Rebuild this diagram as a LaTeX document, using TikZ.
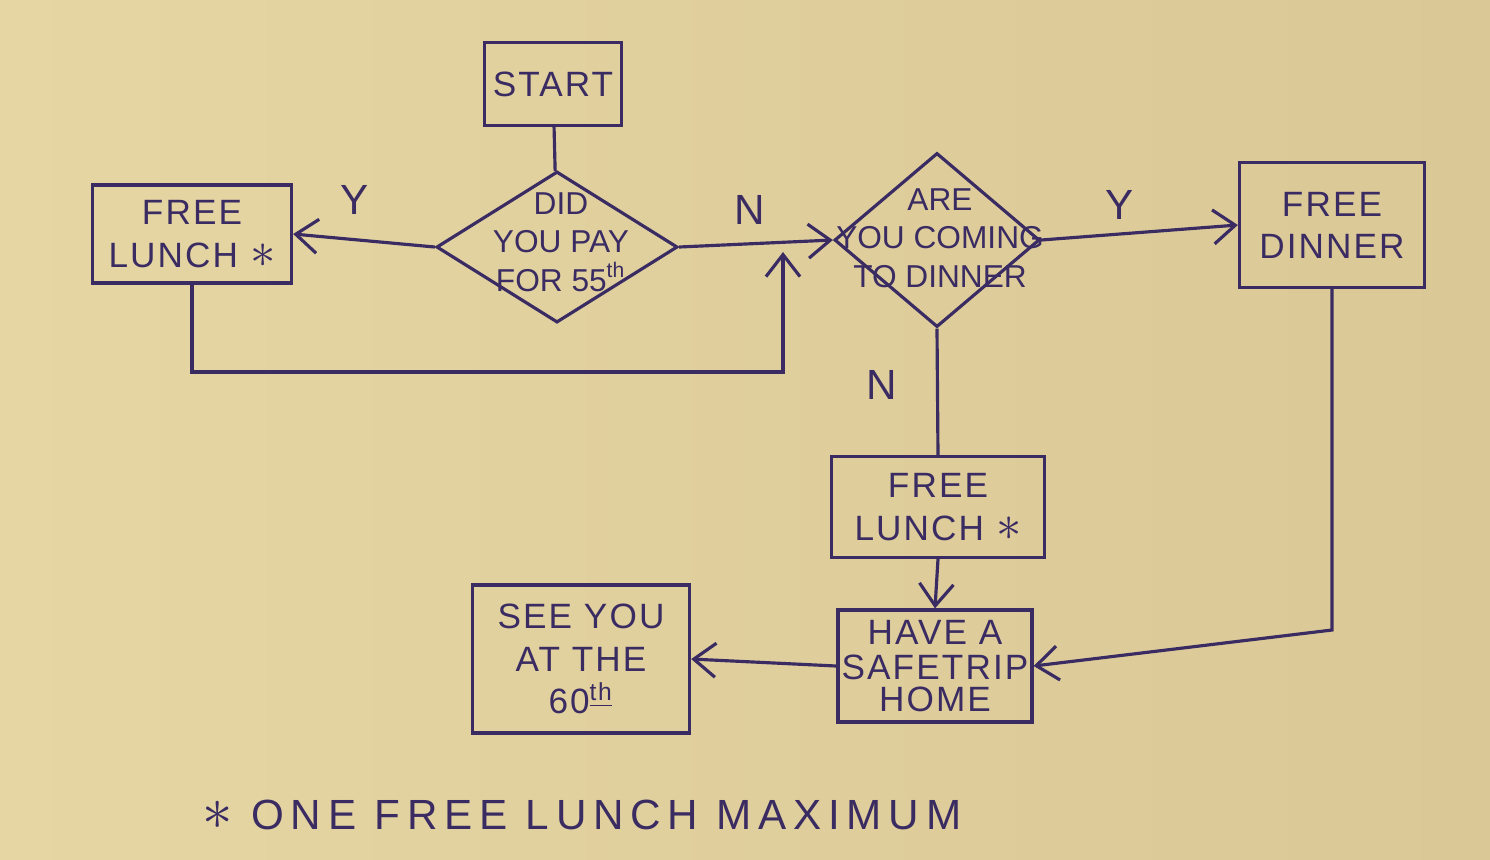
\documentclass[tikz,border=0pt]{standalone}
\usepackage{fontspec}
\setmainfont{Liberation Sans}
\newfontfamily\handfont[LetterSpace=6]{Liberation Sans}
\newfontfamily\notefont[LetterSpace=16]{Liberation Sans}
\usepackage{xcolor}
\usepackage{tikz}
\usetikzlibrary{shapes.geometric, arrows.meta, calc}
\definecolor{ink}{RGB}{58,44,98}
\definecolor{paperL}{RGB}{229,214,164}
\definecolor{paperR}{RGB}{218,200,150}
\tikzset{
  flowbox/.style = {draw=ink, line width=0.9pt, rectangle, inner sep=2pt, align=center, text=ink, font=\handfont\normalsize},
  decision/.style = {draw=ink, line width=0.9pt, diamond, inner sep=0pt},
  dtext/.style = {align=center, text=ink, font=\small},
  link/.style = {draw=ink, line width=0.9pt},
  arrow/.style = {link, -{Straight Barb[length=2.2mm, width=3.4mm, line width=0.9pt]}},
  answer/.style = {text=ink, font=\handfont\large}
}

\begin{document}
\begin{tikzpicture}[x=0.01cm, y=-0.01cm]
% paper
\shade[left color=paperL, right color=paperR] (0,0) rectangle (1490,859);
\useasboundingbox (0,0) rectangle (1490,859);

% boxes
\node[flowbox, minimum width=1.37cm, minimum height=0.83cm] (start) at (553,84) {START};
\node[flowbox, minimum width=1.99cm, minimum height=0.98cm] (lunchA) at (192,234) {FREE\\LUNCH {\Large$\ast$}};
\node[flowbox, minimum width=1.85cm, minimum height=1.25cm] (dinner) at (1332,225) {FREE\\DINNER};
\node[flowbox, minimum width=2.13cm, minimum height=1.01cm] (lunchB) at (938,507) {FREE\\LUNCH {\Large$\ast$}};
\node[flowbox, minimum width=1.94cm, minimum height=1.12cm, inner sep=1pt] (home) at (935,666) {HAVE A\\[-2pt]SAFETRIP\\[-3pt]HOME};
\node[flowbox, minimum width=2.17cm, minimum height=1.48cm] (seeyou) at (581,659) {SEE YOU\\AT THE\\60\textsuperscript{\underline{th}}};

% decisions
\node[decision, minimum width=2.41cm, minimum height=1.51cm] (did) at (557,247) {};
\node[dtext] (didtext) at (561,242) {DID\\YOU PAY\\FOR 55\textsuperscript{th}};
\node[decision, minimum width=2.05cm, minimum height=1.74cm] (are) at (937,240) {};
\node[dtext] (aretext) at (940,238) {ARE\\YOU COMING\\TO DINNER};

% connectors
\coordinate (loop) at (783,372);
\coordinate (merge) at (783,252);
\coordinate (turn) at (1332,630);

\draw[link] (start) -- (did);
\draw[arrow] (did.west) -- (lunchA.east);
\draw[arrow] (did.east) -- (are.west);
\draw[arrow] (lunchA.south) |- (loop) -- (merge);
\draw[arrow] (are.east) -- (dinner.west);
\draw[link] (are.south) -- (lunchB.north);
\draw[arrow] (lunchB.south) -- (home.north);
\draw[arrow] (dinner.south) -- (turn) -- (home.east);
\draw[arrow] (home.west) -- (seeyou.east);

% answers
\node[answer] (yA) at (355,200) {Y};
\node[answer] (nA) at (750,210) {N};
\node[answer] (yB) at (1120,205) {Y};
\node[answer] (nB) at (882,385) {N};

% note
\node[anchor=west, text=ink, font=\notefont\large] (note) at (190,815) {{\LARGE$\ast$}\ ONE\ FREE\ LUNCH\ MAXIMUM};
\end{tikzpicture}
\end{document}
